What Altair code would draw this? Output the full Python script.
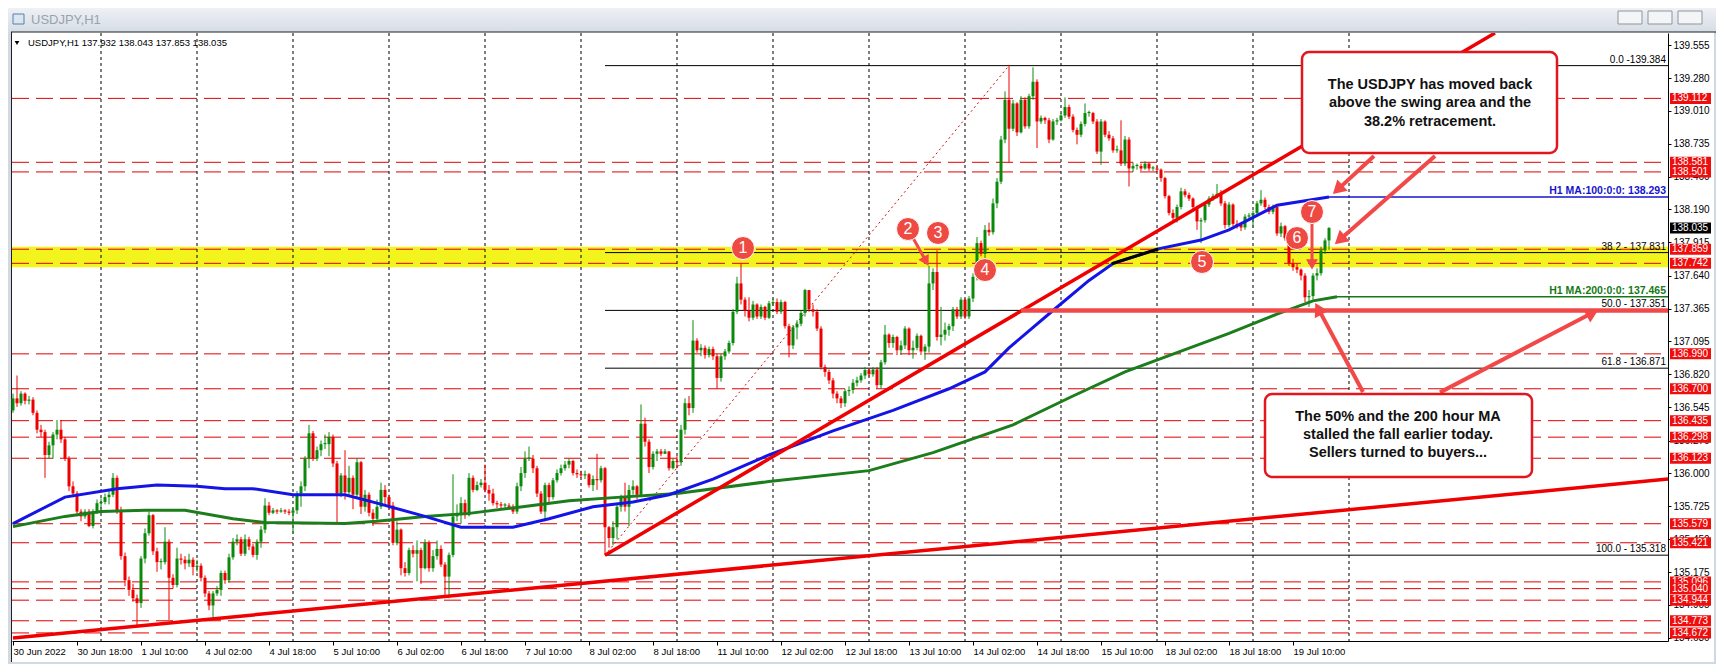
import math, json
import altair as alt
import pandas as pd

# ---------------- data ----------------
FIRST_OPEN = 136.52
CLOSE = [
 136.62,136.58,136.66,136.60,136.61,136.50,136.36,136.34,136.15,136.23,
 136.32,136.36,136.28,136.12,135.89,135.83,135.68,135.64,135.68,135.56,
 135.68,135.75,135.76,135.80,135.82,135.96,135.69,135.31,135.11,135.03,
 134.96,134.92,135.29,135.50,135.65,135.35,135.26,135.26,135.43,135.13,
 135.07,135.29,135.28,135.25,135.28,135.22,135.23,135.13,135.00,134.90,
 135.00,135.03,135.17,135.11,135.30,135.43,135.45,135.33,135.45,135.39,
 135.32,135.43,135.53,135.73,135.67,135.69,135.68,135.69,135.68,135.67,
 135.69,135.83,135.89,136.12,136.33,136.12,136.19,136.24,136.24,136.30,
 136.08,135.83,
 135.98,135.84,135.96,135.82,136.09,135.72,135.82,135.67,135.62,135.72,
 135.86,135.80,135.73,135.42,135.53,135.21,135.17,135.36,135.33,135.36,
 135.21,135.42,135.21,135.31,135.37,135.24,135.14,135.32,135.64,135.65,
 135.75,135.65,135.96,135.86,135.90,135.92,135.86,135.83,135.75,135.74,
 135.73,135.73,135.72,135.68,135.89,136.00,136.12,136.12,136.04,135.83,
 135.68,135.90,135.80,135.94,136.00,136.04,136.07,136.10,136.00,135.99,
 135.98,135.99,135.90,135.95,135.94,136.04,135.55,135.46,135.55,135.72,
 135.80,135.72,135.86,135.89,135.82,136.41,136.26,136.05,136.16,136.18,
 136.16,136.18,136.04,136.10,136.09,136.36,136.58,136.54,137.10,
 137.02,137.04,136.98,137.03,136.97,136.79,136.97,137.01,137.08,137.34,
 137.575,137.44,137.35,137.29,137.40,137.30,137.38,137.29,137.41,137.42,
 137.34,137.42,137.22,137.06,137.21,137.24,137.33,137.52,137.36,137.34,
 137.20,136.88,136.84,136.77,136.66,136.62,136.58,136.68,136.69,136.75,
 136.77,136.81,136.855,136.82,136.86,136.73,136.92,137.15,137.08,137.13,
 137.02,137.06,137.20,137.02,137.04,137.14,137.01,137.05,137.575,137.67,
 137.13,137.15,137.19,137.22,137.36,137.30,137.44,137.30,137.45,137.63,
 137.91,137.82,138.02,138.00,138.24,138.42,138.77,139.10,138.86,
 139.07,138.83,139.10,138.88,139.13,139.25,138.92,138.95,138.93,138.77,
 138.92,138.93,138.97,139.04,138.96,138.85,138.81,138.90,138.99,138.99,
 138.92,138.67,138.92,138.81,138.78,138.68,138.68,138.57,138.77,138.53,
 138.55,138.55,138.53,138.57,138.53,138.53,138.52,138.45,138.30,138.16,
 138.12,138.21,138.34,138.31,138.28,138.21,138.09,138.10,138.23,138.28,
 138.30,138.32,138.24,138.06,138.23,138.07,138.06,138.04,138.13,138.14,
 138.16,138.24,138.27,138.21,138.17,138.21,137.99,138.05,137.95,137.74,
 137.71,137.69,137.64,137.46,137.47,137.64,137.66,137.85,137.932,138.035]
HIGH = [
 136.66,136.81,136.68,136.67,136.64,136.63,136.52,136.40,136.36,136.26,
 136.34,136.44,136.44,136.30,136.14,135.93,135.85,135.70,135.70,135.70,
 135.70,135.78,135.79,135.83,135.85,136.00,135.98,135.72,135.34,135.14,
 135.08,134.99,135.31,135.54,135.68,135.66,135.38,135.29,135.55,135.45,
 135.16,135.38,135.33,135.31,135.33,135.30,135.28,135.25,135.15,135.02,
 135.02,135.06,135.19,135.19,135.33,135.46,135.49,135.47,135.49,135.47,
 135.41,135.45,135.56,135.79,135.76,135.71,135.70,135.71,135.70,135.70,
 135.71,135.85,135.93,136.14,136.40,136.35,136.22,136.27,136.32,136.34,
 136.32,136.10,
 136.00,136.19,136.06,135.98,136.12,136.10,135.86,135.84,135.70,135.78,
 135.92,135.90,135.82,135.76,135.60,135.54,135.26,135.38,135.40,135.44,
 135.38,135.45,135.44,135.36,135.44,135.40,135.26,135.34,135.99,135.74,
 135.80,135.78,136.00,135.98,135.93,135.95,136.07,135.90,135.87,135.77,
 135.76,135.75,135.75,135.74,135.92,136.05,136.18,136.22,136.15,136.06,
 135.85,135.92,135.92,135.96,136.03,136.07,136.10,136.12,136.11,136.03,
 136.02,136.02,136.00,135.98,136.16,136.06,136.05,135.56,135.60,135.74,
 135.82,135.92,135.90,135.94,135.90,136.57,136.46,136.28,136.18,136.20,
 136.20,136.20,136.18,136.12,136.14,136.40,136.62,136.64,137.27,
 137.12,137.07,137.06,137.05,137.05,136.99,136.99,137.03,137.10,137.36,
 137.63,137.74,137.46,137.46,137.43,137.41,137.40,137.39,137.43,137.45,
 137.45,137.44,137.43,137.24,137.23,137.27,137.35,137.53,137.52,137.40,
 137.36,137.22,136.90,136.86,136.79,136.68,136.64,136.70,136.72,136.78,
 136.80,136.83,136.88,136.87,136.88,136.88,136.94,137.23,137.16,137.15,
 137.14,137.10,137.22,137.21,137.10,137.16,137.15,137.07,137.72,137.70,
 137.85,137.38,137.25,137.24,137.38,137.38,137.46,137.45,137.47,137.66,
 137.96,137.93,138.06,138.08,138.28,138.45,138.80,139.17,139.39,
 139.10,139.08,139.13,139.12,139.15,139.37,139.27,138.97,138.96,138.95,
 138.94,138.95,138.99,139.12,139.06,138.98,138.87,138.92,139.07,139.01,
 139.00,138.94,138.94,138.93,138.84,138.80,138.72,138.93,138.80,138.79,
 138.58,138.57,138.57,138.59,138.58,138.55,138.55,138.53,138.46,138.31,
 138.19,138.23,138.37,138.36,138.33,138.29,138.22,138.12,138.25,138.30,
 138.32,138.40,138.35,138.26,138.25,138.24,138.10,138.08,138.15,138.16,
 138.18,138.26,138.35,138.29,138.23,138.23,138.22,138.08,138.06,137.96,
 137.78,137.74,137.70,137.66,137.52,137.66,137.70,137.88,137.95,138.043]
LOW = [
 136.50,136.55,136.56,136.57,136.57,136.48,136.33,136.30,135.96,136.12,
 136.12,136.28,136.25,136.10,135.85,135.80,135.64,135.60,135.62,135.55,
 135.54,135.66,135.70,135.74,135.74,135.80,135.66,135.28,135.06,134.98,
 134.93,134.72,134.88,135.25,135.48,135.32,135.18,135.20,135.24,134.78,
 135.04,135.05,135.24,135.20,135.22,135.15,135.18,135.10,134.97,134.86,
 134.78,134.98,134.98,135.08,135.09,135.28,135.40,135.31,135.31,135.36,
 135.30,135.28,135.38,135.50,135.65,135.66,135.66,135.67,135.66,135.65,
 135.50,135.66,135.72,135.85,136.04,136.10,136.10,136.14,136.20,136.14,
 136.05,135.58,
 135.80,135.78,135.82,135.70,135.80,135.66,135.68,135.64,135.56,135.60,
 135.70,135.74,135.70,135.40,135.40,135.15,135.14,135.15,135.30,135.10,
 135.08,135.20,135.18,135.18,135.28,135.22,134.98,134.96,135.30,135.60,
 135.58,135.62,135.64,135.84,135.85,135.88,135.84,135.77,135.73,135.71,
 135.70,135.71,135.70,135.66,135.66,135.85,135.96,136.10,136.00,135.80,
 135.66,135.60,135.76,135.78,135.92,135.98,136.02,136.04,135.98,135.96,
 135.96,135.95,135.88,135.85,135.86,135.92,135.32,135.38,135.40,135.45,
 135.68,135.68,135.56,135.82,135.78,135.80,136.22,136.00,136.03,136.10,
 136.14,136.16,136.02,136.03,136.04,136.06,136.32,136.48,136.50,
 137.00,136.97,136.95,136.96,136.94,136.70,136.76,136.94,136.99,137.06,
 137.32,137.40,137.30,137.26,137.27,137.28,137.28,137.27,137.28,137.39,
 137.32,137.32,137.20,136.96,137.03,137.11,137.22,137.30,137.34,137.30,
 137.18,136.86,136.80,136.74,136.62,136.58,136.54,136.55,136.64,136.66,
 136.72,136.75,136.78,136.80,136.80,136.70,136.70,136.90,137.04,137.04,
 136.98,136.98,137.03,136.98,136.95,137.02,136.98,136.94,137.00,137.52,
 137.10,137.06,137.10,137.14,137.18,137.28,137.28,137.28,137.28,137.42,
 137.60,137.80,137.76,137.97,137.98,138.20,138.40,138.74,138.58,
 138.84,138.80,138.82,138.86,138.86,139.10,138.70,138.90,138.90,138.74,
 138.76,138.89,138.92,138.95,138.94,138.83,138.73,138.79,138.88,138.96,
 138.90,138.65,138.56,138.79,138.76,138.66,138.66,138.55,138.55,138.38,
 138.50,138.52,138.51,138.52,138.51,138.51,138.50,138.42,138.28,138.14,
 138.10,138.08,138.19,138.29,138.26,138.19,138.02,137.91,138.08,138.21,
 138.26,138.28,138.22,138.03,138.04,138.05,138.03,138.01,138.02,138.10,
 138.04,138.14,138.22,138.19,138.15,138.15,137.97,137.96,137.93,137.72,
 137.68,137.66,137.60,137.42,137.38,137.44,137.60,137.64,137.82,137.853]

MA100_BARS = [0, 13, 26, 36, 46, 53, 60, 70, 83, 91, 103, 112, 125, 134, 145, 155, 164,
              175, 189, 205, 220, 234, 243, 249, 260, 269, 275, 286, 297, 304, 316, 329]
MA100_VALS = [135.58, 135.80, 135.87, 135.90, 135.89, 135.87, 135.87, 135.82, 135.82, 135.75,
              135.64, 135.55, 135.55, 135.62, 135.72, 135.76, 135.82, 135.95, 136.15, 136.35,
              136.52, 136.70, 136.84, 137.04, 137.35, 137.60, 137.74, 137.86, 137.935, 138.02,
              138.225, 138.293]
MA200_BARS = [0, 13, 22, 33, 43, 55, 63, 83, 91, 103, 114, 125, 139, 152, 166, 189, 214,
              230, 250, 265, 278, 291, 304, 316, 325, 331]
MA200_VALS = [135.555, 135.64, 135.68, 135.69, 135.69, 135.62, 135.59, 135.58, 135.60, 135.64,
              135.665, 135.71, 135.77, 135.80, 135.83, 135.93, 136.02, 136.17, 136.40, 136.64,
              136.84, 137.00, 137.16, 137.32, 137.43, 137.465]
MA100_LAST = 138.293
MA200_LAST = 137.465

TIME_LABELS = ["30 Jun 2022", "30 Jun 18:00", "1 Jul 10:00", "4 Jul 02:00", "4 Jul 18:00",
               "5 Jul 10:00", "6 Jul 02:00", "6 Jul 18:00", "7 Jul 10:00", "8 Jul 02:00",
               "8 Jul 18:00", "11 Jul 10:00", "12 Jul 02:00", "12 Jul 18:00", "13 Jul 10:00",
               "14 Jul 02:00", "14 Jul 18:00", "15 Jul 10:00", "18 Jul 02:00", "18 Jul 18:00",
               "19 Jul 10:00"]
PRICE_TICKS = [139.555, 139.280, 139.010, 138.735, 138.460, 138.190, 137.915, 137.640, 137.365,
               137.095, 136.820, 136.545, 136.270, 136.000, 135.725, 135.450, 135.175, 134.905, 134.630]
LEVELS = [139.112, 138.581, 138.501, 137.859, 137.742, 136.990, 136.700, 136.435, 136.298,
          136.123, 135.579, 135.421, 135.096, 135.040, 134.944, 134.773, 134.672]
LAST_PRICE = 138.035
FIB_LEVELS = [139.384, 137.831, 137.351, 136.871, 135.318]
FIB_TEXT = ["0.0 -139.384", "38.2 - 137.831", "50.0 - 137.351", "61.8 - 136.871", "100.0 - 135.318"]
FIB_START_BAR = 148
FIB_HIGH_BAR = 249
SWING_BAND = [137.71, 137.88]
DAY_GRID_BARS = list(range(22, 335, 24))
TREND_LINES = [(0, 134.63, 413.75, 135.95), (148, 135.318, 370.5, 139.655)]
BLACK_SEGMENT = (274.7, 137.74, 286.3, 137.86)
FIFTY_ARROW_LINE = (252, 137.351)
ARROWS = [(356.75, 136.67, 396.0, 137.35, 4, 230),
          (337.5, 136.673, 325.75, 137.40, 4, 230),
          (340.25, 138.633, 330.25, 138.326, 4, 230),
          (355.5, 138.633, 330.75, 137.91, 4, 230),
          (223.75, 138.027, 228.75, 137.73, 3, 140),
          (324.75, 138.10, 324.75, 137.70, 3, 140)]
CIRCLES = [(182.5, 137.869, "1"), (223.75, 138.027, "2"), (231.25, 137.994, "3"),
           (243.0, 137.686, "4"), (297.25, 137.753, "5"), (321.0, 137.952, "6"),
           (324.75, 138.168, "7")]
BOX_TOP = (322.25, 139.497, 386.0, 138.658)
BOX_TOP_TEXT = ["The USDJPY has moved back", "above the swing area and the", "38.2% retracement."]
BOX_TOP_TEXT_POS = (354.25, [139.223, 139.073, 138.915])
BOX_BOT = (313.0, 136.656, 379.75, 135.967)
BOX_BOT_TEXT = ["The 50% and the 200 hour MA", "stalled the fall earlier today.", "Sellers turned to buyers..."]
BOX_BOT_TEXT_POS = (346.25, [136.465, 136.316, 136.166])
HEADER = "USDJPY,H1  137.932 138.043 137.853 138.035"
WINDOW_TITLE = "USDJPY,H1"

# ---------------- layout / style ----------------
W, H = 1656, 608
X_DOM = [-0.25, 413.75]
Y_DOM = [134.605, 139.655]
PXB = W / (X_DOM[1] - X_DOM[0])
PXP = H / (Y_DOM[1] - Y_DOM[0])
FONT = "Liberation Sans"
GREEN = "#0a8a0a"
RED = "#ee0000"
xs = alt.Scale(domain=X_DOM, nice=False, zero=False)
ys = alt.Scale(domain=Y_DOM, nice=False, zero=False)

XAXIS = alt.Axis(values=list(range(0, 16 * len(TIME_LABELS), 16)),
                 labelExpr=json.dumps(TIME_LABELS) + "[round(datum.value / 16)]",
                 labelAlign="left", labelBaseline="top", labelFont=FONT, labelFontSize=9.5,
                 labelColor="black", tickColor="black", tickSize=4, domainColor="black",
                 labelPadding=1, labelOverlap=False, labelFlush=False, grid=False, title=None)
YAXIS = alt.Axis(values=PRICE_TICKS, format=".3f", orient="right", labelFont=FONT, labelFontSize=10,
                 labelColor="black", tickColor="black", tickSize=3, domainColor="black",
                 labelPadding=2, labelOverlap=False, grid=False, title=None, labelFlush=False)


def X(f="x"):
    return alt.X(f + ":Q", scale=xs, axis=XAXIS)


def Y(f="y"):
    return alt.Y(f + ":Q", scale=ys, axis=YAXIS)


layers = []
one = pd.DataFrame({"a": [0]})

# --- window chrome (outside the chart window)
grad = alt.LinearGradient(gradient="linear", stops=[alt.GradientStop(color="#eef1f5", offset=0),
                                                      alt.GradientStop(color="#d6dde5", offset=1)],
                          x1=0, x2=0, y1=0, y2=1)
layers.append(alt.Chart(one).mark_rect(color=grad).encode(
    x=alt.value(-4), x2=alt.value(1704), y=alt.value(-25), y2=alt.value(-1)))
layers.append(alt.Chart(one).mark_rect(color="#d3d9e0").encode(
    x=alt.value(-4), x2=alt.value(-1), y=alt.value(-1), y2=alt.value(631)))
layers.append(alt.Chart(one).mark_rect(color="#d3d9e0").encode(
    x=alt.value(-4), x2=alt.value(1704), y=alt.value(629), y2=alt.value(631)))
layers.append(alt.Chart(one).mark_rect(color="#cfd8e3").encode(
    x=alt.value(1702), x2=alt.value(1704), y=alt.value(-1), y2=alt.value(631)))
layers.append(alt.Chart(one).mark_rule(color="#202020", strokeWidth=1).encode(
    x=alt.value(-1), x2=alt.value(1704), y=alt.value(-1)))
layers.append(alt.Chart(one).mark_rule(color="#202020", strokeWidth=1).encode(
    x=alt.value(-0.5), y=alt.value(-1), y2=alt.value(629)))
layers.append(alt.Chart(one).mark_rect(fill="#dbe6f2", stroke="#5b7fa6", strokeWidth=1).encode(
    x=alt.value(1), x2=alt.value(12), y=alt.value(-19), y2=alt.value(-9)))
layers.append(alt.Chart(pd.DataFrame({"t": [WINDOW_TITLE]})).mark_text(
    align="left", baseline="middle", font=FONT, fontSize=13, color="#9aa2ab").encode(
    x=alt.value(19), y=alt.value(-13), text="t:N"))
for bx in (1606, 1636, 1666):
    layers.append(alt.Chart(one).mark_rect(fill="#f4f5f7", stroke="#8e959e", strokeWidth=1).encode(
        x=alt.value(bx), x2=alt.value(bx + 24), y=alt.value(-22), y2=alt.value(-9)))

# --- swing area band
layers.append(alt.Chart(pd.DataFrame({"y": [SWING_BAND[0]], "y2": [SWING_BAND[1]]})).mark_rect(
    color="#f3f31e").encode(x=alt.value(0), x2=alt.value(W), y=Y(), y2="y2:Q"))

# --- horizontal dashed levels
lev = pd.DataFrame({"y": LEVELS})
layers.append(alt.Chart(lev).mark_rule(color="#e00000", strokeWidth=1, strokeDash=[17, 7]).encode(
    x=alt.value(0), x2=alt.value(W), y=Y()))

# --- day separators
grid = pd.DataFrame({"x": DAY_GRID_BARS})
layers.append(alt.Chart(grid).mark_rule(color="black", strokeWidth=1, strokeDash=[3, 3]).encode(
    x=X(), y=alt.value(0), y2=alt.value(H)))

# --- fibonacci
fib = pd.DataFrame({"x": [FIB_START_BAR] * 5, "x2": [X_DOM[1]] * 5, "y": FIB_LEVELS, "t": FIB_TEXT})
layers.append(alt.Chart(fib).mark_rule(color="black", strokeWidth=1).encode(x=X(), x2="x2:Q", y=Y()))
layers.append(alt.Chart(fib).mark_text(align="right", baseline="bottom", dy=-1, font=FONT,
                                       fontSize=10, color="black").encode(
    x=alt.value(W - 2), y=Y(), text="t:N"))
layers.append(alt.Chart(pd.DataFrame({"x": [FIB_START_BAR], "y": [FIB_LEVELS[-1]],
                                      "x2": [FIB_HIGH_BAR], "y2": [FIB_LEVELS[0]]})).mark_rule(
    color="#d01010", strokeWidth=1, strokeDash=[2, 3]).encode(x=X(), y=Y(), x2="x2:Q", y2="y2:Q"))

# --- candles
opens = [FIRST_OPEN] + CLOSE[:-1]
rows = []
for i, (o, c, h, l) in enumerate(zip(opens, CLOSE, HIGH, LOW)):
    hi = max(h, o, c)
    lo = min(l, o, c)
    bt, bb = max(o, c), min(o, c)
    if bt - bb < 0.009:
        bt = bb + 0.009
    rows.append({"x": i, "h": hi, "l": lo, "bt": bt, "bb": bb, "up": c >= o})
cdf = pd.DataFrame(rows)
for up, col in ((True, GREEN), (False, RED)):
    sub = cdf[cdf["up"] == up]
    layers.append(alt.Chart(sub).mark_rule(strokeWidth=1, color=col).encode(
        x=X(), y=Y("l"), y2="h:Q"))
    layers.append(alt.Chart(sub).mark_rule(strokeWidth=3, color=col).encode(
        x=X(), y=Y("bb"), y2="bt:Q"))

# --- moving averages
ma100 = pd.DataFrame({"x": MA100_BARS, "y": MA100_VALS})
ma200 = pd.DataFrame({"x": MA200_BARS, "y": MA200_VALS})
layers.append(alt.Chart(ma200).mark_line(color="#1b7d1b", strokeWidth=3).encode(x=X(), y=Y()))
layers.append(alt.Chart(ma100).mark_line(color="#1414e6", strokeWidth=3).encode(x=X(), y=Y()))
for bar0, val, name, col in ((MA100_BARS[-1], MA100_LAST, "H1 MA:100:0:0: %.3f", "#1414d0"),
                             (MA200_BARS[-1], MA200_LAST, "H1 MA:200:0:0: %.3f", "#157a15")):
    e = pd.DataFrame({"x": [bar0], "x2": [X_DOM[1]], "y": [val], "t": [name % val]})
    layers.append(alt.Chart(e).mark_rule(strokeWidth=1.5, color=col).encode(x=X(), x2="x2:Q", y=Y()))
    layers.append(alt.Chart(e).mark_text(align="right", baseline="bottom", dy=-1, font=FONT,
                                         fontSize=10.5, fontWeight="bold", color=col).encode(
        x=alt.value(W - 2), y=Y(), text="t:N"))
b = BLACK_SEGMENT
layers.append(alt.Chart(pd.DataFrame({"x": [b[0]], "y": [b[1]], "x2": [b[2]], "y2": [b[3]]})).mark_rule(
    color="black", strokeWidth=3).encode(x=X(), y=Y(), x2="x2:Q", y2="y2:Q"))

# --- trend lines
tl = pd.DataFrame([{"x": a, "y": bb_, "x2": c, "y2": d} for a, bb_, c, d in TREND_LINES])
layers.append(alt.Chart(tl).mark_rule(color="#f00000", strokeWidth=3.5, clip=True).encode(
    x=X(), y=Y(), x2="x2:Q", y2="y2:Q"))

# --- thick arrows
ARW = "#f24848"
layers.append(alt.Chart(pd.DataFrame({"x": [FIFTY_ARROW_LINE[0]], "x2": [X_DOM[1]],
                                      "y": [FIFTY_ARROW_LINE[1]]})).mark_rule(
    color=ARW, strokeWidth=4.5).encode(x=X(), x2="x2:Q", y=Y()))
shafts, heads = [], []
for (b1, p1, b2, p2, wdt, hs) in ARROWS:
    dx = (b2 - b1) * PXB
    dy = -(p2 - p1) * PXP
    L = math.hypot(dx, dy)
    ux, uy = dx / L, dy / L
    back = 5 if wdt >= 4 else 4
    hb = b2 - ux * back / PXB
    hp = p2 + uy * back / PXP
    ang = math.degrees(math.atan2(dy, dx)) % 360
    shafts.append({"x": b1, "y": p1, "x2": hb, "y2": hp, "w": wdt})
    heads.append({"x": hb, "y": hp, "a": ang, "s": hs})
sdf = pd.DataFrame(shafts)
hdf = pd.DataFrame(heads)
layers.append(alt.Chart(sdf).mark_rule(color=ARW).encode(
    x=X(), y=Y(), x2="x2:Q", y2="y2:Q",
    strokeWidth=alt.StrokeWidth("w:Q", scale=None, legend=None)))
layers.append(alt.Chart(hdf).mark_point(shape="triangle-right", filled=True, color=ARW, opacity=1).encode(
    x=X(), y=Y(), angle=alt.Angle("a:Q", scale=None),
    size=alt.Size("s:Q", scale=None, legend=None)))

# --- numbered circles
cir = pd.DataFrame([{"x": a, "y": bb_, "t": t} for a, bb_, t in CIRCLES])
layers.append(alt.Chart(cir).mark_circle(size=530, color="#ee4a43", opacity=1, stroke="white",
                                         strokeWidth=1).encode(x=X(), y=Y()))
layers.append(alt.Chart(cir).mark_text(font=FONT, fontSize=16, color="white", baseline="middle",
                                       align="center").encode(x=X(), y=Y(), text="t:N"))

# --- annotation boxes
for box, lines, pos in ((BOX_TOP, BOX_TOP_TEXT, BOX_TOP_TEXT_POS), (BOX_BOT, BOX_BOT_TEXT, BOX_BOT_TEXT_POS)):
    layers.append(alt.Chart(pd.DataFrame({"x": [box[0]], "y": [box[1]], "x2": [box[2]], "y2": [box[3]]}))
                  .mark_rect(fill="white", stroke="#e3161e", strokeWidth=2.5, cornerRadius=7)
                  .encode(x=X(), y=Y(), x2="x2:Q", y2="y2:Q"))
    layers.append(alt.Chart(pd.DataFrame({"x": [pos[0]] * len(lines), "y": pos[1], "t": lines}))
                  .mark_text(font=FONT, fontSize=14.5, fontWeight="bold", color="#111111",
                             align="center", baseline="middle")
                  .encode(x=X(), y=Y(), text="t:N"))

# --- price tags on the right axis
for p in LEVELS + [LAST_PRICE]:
    bg = "black" if p == LAST_PRICE else "#f00d0d"
    d = pd.DataFrame({"y": [p - 5.5 / PXP], "y2": [p + 5.5 / PXP], "p": [p], "t": ["%.3f" % p]})
    layers.append(alt.Chart(d).mark_rect(color=bg).encode(
        x=alt.value(W + 2), x2=alt.value(W + 43), y=Y(), y2="y2:Q"))
    layers.append(alt.Chart(d).mark_text(align="left", baseline="middle", font=FONT, fontSize=10,
                                         color="white").encode(
        x=alt.value(W + 4), y=Y("p"), text="t:N"))

# --- header text
layers.append(alt.Chart(one).mark_point(shape="triangle-down", filled=True, color="black", size=22,
                                        opacity=1).encode(x=alt.value(5), y=alt.value(10)))
layers.append(alt.Chart(pd.DataFrame({"t": [HEADER]})).mark_text(
    align="left", baseline="middle", font=FONT, fontSize=9.5, color="black").encode(
    x=alt.value(16), y=alt.value(10), text="t:N"))

chart = alt.layer(*layers).properties(
    width=W, height=H,
    padding={"left": 4, "top": 25, "right": 48, "bottom": 23},
    autosize=alt.AutoSizeParams(type="none"),
    background="white",
).configure_view(stroke=None)

chart.save("out.html", embed_options={"renderer": "svg", "actions": False})
